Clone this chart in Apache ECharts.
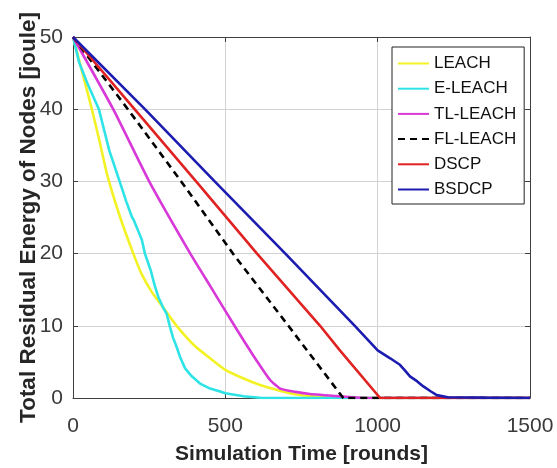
<!DOCTYPE html>
<html>
<head>
<meta charset="utf-8">
<script src="https://cdn.jsdelivr.net/npm/echarts@6/dist/echarts.min.js"></script>
<style>
  html, body { margin: 0; padding: 0; background: #fff; }
  #chart { width: 557px; height: 468px; }
</style>
</head>
<body>
<div id="chart"></div>
<script>
// values, [round, energy]
const seriesNames = ['LEACH', 'E-LEACH', 'TL-LEACH', 'FL-LEACH', 'DSCP', 'BSDCP']
const xTicks = [0, 500, 1000, 1500]
const yTicks = [0, 10, 20, 30, 40, 50]

const leach = [[0, 50], [30, 45.2], [60, 40.3], [87, 35.6], [113, 30.8], [155, 25], [198, 20],
  [225, 17.2], [260, 14.6], [302, 12.2], [340, 10], [400, 7.2], [450, 5.5], [500, 3.9], [560, 2.7],
  [614, 1.8], [670, 1.1], [723, 0.55], [790, 0.2], [850, 0.02], [1500, 0]]
const eLeach = [[0, 50], [20, 46.5], [47, 43.6], [85, 40], [119, 34.3], [153, 30], [175, 27.2], [193, 25.1],
  [200, 24.6], [226, 21.9], [236, 20], [255, 17.7], [268, 15.6], [280, 14], [295, 12.6], [307, 11.7],
  [318, 9.9], [328, 8.4], [340, 7.1], [352, 5.6], [368, 4.1], [390, 3], [417, 2], [450, 1.3],
  [483, 0.9], [500, 0.65], [560, 0.25], [620, 0], [1500, 0]]
const tlLeach = [[0, 50], [132, 40], [250, 30], [385, 20], [452, 15.4], [530, 10],
  [590, 6], [647, 2.5], [680, 1.3], [730, 0.85], [778, 0.55], [887, 0.2], [950, 0.02], [1500, 0]]
const flLeach = [[0, 50], [180, 40], [355, 30], [525, 20], [707, 10], [887, 0], [1500, 0]]
const dscp = [[0, 50], [202, 40], [404, 30], [604, 20], [811, 10], [876, 6.6], [1008, 0], [1500, 0]]
const bsdcp = [[0, 50], [236, 40], [465, 30], [697, 20], [925, 10], [1000, 6.6], [1041, 5.5],
  [1073, 4.6], [1090, 3.8], [1106, 3.0], [1130, 2.3], [1150, 1.6], [1175, 0.9], [1194, 0.4],
  [1230, 0.1], [1350, 0.05], [1500, 0]]

const seriesData = [leach, eLeach, tlLeach, flLeach, dscp, bsdcp]
const colors = ['#f2f224', '#2ee3e6', '#d838d8', '#000000', '#e02222', '#1c1cb0']
const smoothness = [0.2, 0, 0.15, 0, 0, 0]

const font = '"Liberation Sans", Arial, Helvetica, sans-serif'
const chart = echarts.init(document.getElementById('chart'))

const boxAxis = (pos, extra) => Object.assign({
  type: 'value',
  position: pos,
  axisLine: { show: true, onZero: false, lineStyle: { color: '#404040', width: 1 } },
  axisTick: { show: true, inside: true, length: 5, lineStyle: { color: '#404040' } },
  axisLabel: { show: false },
  splitLine: { show: false }
}, extra)

const option = {
  animation: false,
  backgroundColor: '#fff',
  color: colors,
  grid: { left: 73, right: 27, top: 37, bottom: 70, outerBoundsMode: 'none', containLabel: false },
  legend: {
    orient: 'vertical',
    left: 392,
    top: 47,
    padding: [8, 8, 6, 5],
    itemWidth: 31,
    itemHeight: 14,
    itemGap: 8.2,
    backgroundColor: '#fff',
    borderColor: '#222',
    borderWidth: 1,
    itemStyle: { opacity: 0 },
    textStyle: { fontFamily: font, fontSize: 17, color: '#111' },
    data: seriesNames
  },
  xAxis: [
    {
      type: 'value',
      min: 0, max: 1500, interval: 500,
      name: 'Simulation Time [rounds]',
      nameLocation: 'middle',
      nameGap: 46,
      nameMoveOverlap: false,
      nameTextStyle: { fontFamily: font, fontSize: 21, fontWeight: 'bold', color: '#262626' },
      axisLine: { show: true, onZero: false, lineStyle: { color: '#404040', width: 1 } },
      axisTick: { show: true, inside: true, length: 5, lineStyle: { color: '#404040' } },
      axisLabel: {
        margin: 18, fontFamily: font, fontSize: 21, color: '#3a3a3a',
        formatter: v => xTicks.includes(v) ? String(v) : ''
      },
      splitLine: { show: true, lineStyle: { color: '#d2d2d2', width: 1 } }
    },
    boxAxis('top', { min: 0, max: 1500, interval: 500 })
  ],
  yAxis: [
    {
      type: 'value',
      min: 0, max: 50, interval: 10,
      name: 'Total Residual Energy of Nodes [joule]',
      nameLocation: 'middle',
      nameGap: 33,
      nameMoveOverlap: false,
      nameTextStyle: { fontFamily: font, fontSize: 22.5, fontWeight: 'bold', color: '#262626' },
      axisLine: { show: true, onZero: false, lineStyle: { color: '#404040', width: 1 } },
      axisTick: { show: true, inside: true, length: 5, lineStyle: { color: '#404040' } },
      axisLabel: {
        margin: 10, fontFamily: font, fontSize: 21, color: '#3a3a3a',
        formatter: v => yTicks.includes(v) ? String(v) : ''
      },
      splitLine: { show: true, lineStyle: { color: '#d2d2d2', width: 1 } }
    },
    boxAxis('right', { min: 0, max: 50, interval: 10 })
  ],
  series: seriesNames.map((name, i) => ({
    name,
    type: 'line',
    data: seriesData[i],
    showSymbol: false,
    symbol: 'none',
    smooth: smoothness[i],
    lineStyle: {
      width: 2.6,
      color: colors[i],
      type: name === 'FL-LEACH' ? [7, 5] : 'solid'
    }
  }))
}

chart.setOption(option)
</script>
</body>
</html>
